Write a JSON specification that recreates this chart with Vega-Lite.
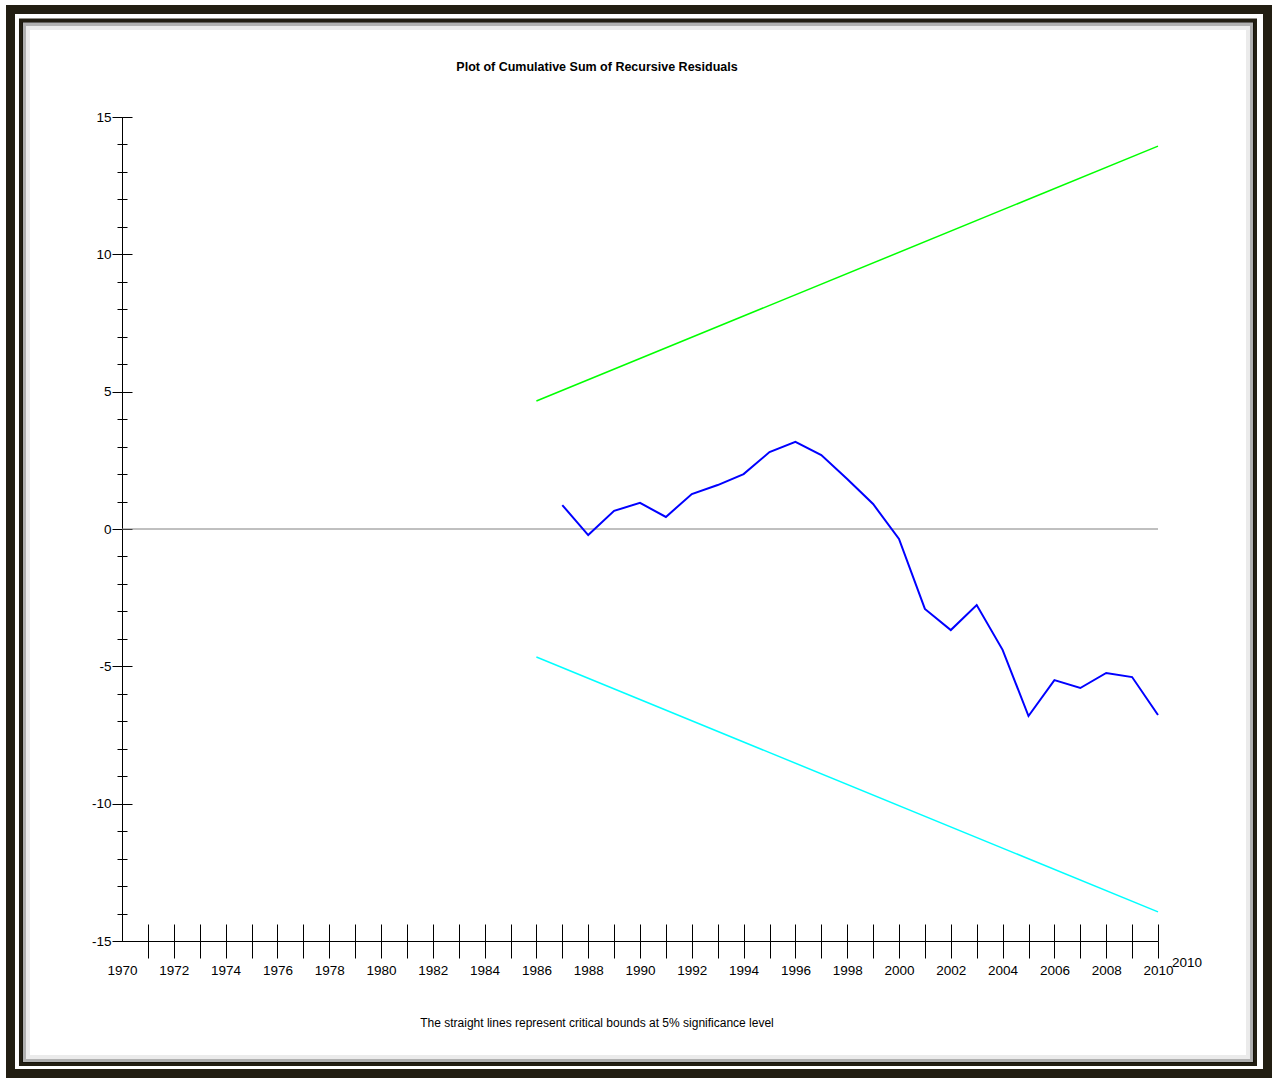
{
  "$schema": "https://vega.github.io/schema/vega-lite/v6.json",
  "width": 1036,
  "height": 824,
  "autosize": {"type": "none"},
  "padding": {"left": 122, "top": 117, "right": 115, "bottom": 142},
  "background": "white",
  "config": {"view": {"stroke": null}},
  "title": {
    "text": "Plot of Cumulative Sum of Recursive Residuals",
    "anchor": "middle",
    "frame": "group",
    "dx": -43,
    "offset": -69,
    "font": "Liberation Sans Narrow, Liberation Sans, sans-serif",
    "fontSize": 12.5,
    "fontWeight": "bold",
    "color": "#000"
  },
  "datasets": {
    "cusum": [
      {"year": 1987, "value": 0.87}, {"year": 1988, "value": -0.22}, {"year": 1989, "value": 0.66},
      {"year": 1990, "value": 0.95}, {"year": 1991, "value": 0.44}, {"year": 1992, "value": 1.27},
      {"year": 1993, "value": 1.60}, {"year": 1994, "value": 2.00}, {"year": 1995, "value": 2.80},
      {"year": 1996, "value": 3.17}, {"year": 1997, "value": 2.69}, {"year": 1998, "value": 1.82},
      {"year": 1999, "value": 0.91}, {"year": 2000, "value": -0.36}, {"year": 2001, "value": -2.91},
      {"year": 2002, "value": -3.68}, {"year": 2003, "value": -2.77}, {"year": 2004, "value": -4.40},
      {"year": 2005, "value": -6.81}, {"year": 2006, "value": -5.50}, {"year": 2007, "value": -5.79},
      {"year": 2008, "value": -5.24}, {"year": 2009, "value": -5.39}, {"year": 2010, "value": -6.77}
    ],
    "bounds": [
      {"year": 1986, "value": 4.66, "bound": "upper"},
      {"year": 2010, "value": 13.94, "bound": "upper"},
      {"year": 1986, "value": -4.66, "bound": "lower"},
      {"year": 2010, "value": -13.94, "bound": "lower"}
    ],
    "one": [{}]
  },
  "resolve": {"axis": {"x": "independent", "y": "independent"}},
  "layer": [
    {
      "data": {"name": "one"},
      "mark": {"type": "rect", "fill": "transparent", "stroke": "#221e12", "strokeWidth": 9},
      "encoding": {
        "x": {"datum": 1965.695, "type": "quantitative", "axis": null, "scale": {"domain": [1970, 2010], "nice": false, "zero": false}},
        "x2": {"datum": 2014.228},
        "y": {"datum": 18.914, "type": "quantitative", "axis": null, "scale": {"domain": [-15, 15], "nice": false, "zero": false}},
        "y2": {"datum": -19.824}
      }
    },
    {
      "data": {"name": "one"},
      "mark": {"type": "rect", "fill": "transparent", "stroke": "#221e12", "strokeWidth": 4},
      "encoding": {
        "x": {"datum": 1966.100, "type": "quantitative", "axis": null},
        "x2": {"datum": 2013.745},
        "y": {"datum": 18.513, "type": "quantitative", "axis": null},
        "y2": {"datum": -19.478}
      }
    },
    {
      "data": {"name": "one"},
      "mark": {"type": "rect", "fill": "transparent", "stroke": "#000", "strokeOpacity": 0.25, "strokeWidth": 4},
      "encoding": {
        "x": {"datum": 1966.216, "type": "quantitative", "axis": null},
        "x2": {"datum": 2013.629},
        "y": {"datum": 18.386, "type": "quantitative", "axis": null},
        "y2": {"datum": -19.369}
      }
    },
    {
      "data": {"name": "one"},
      "mark": {"type": "rect", "fill": "transparent", "stroke": "#000", "strokeOpacity": 0.08, "strokeWidth": 8},
      "encoding": {
        "x": {"datum": 1966.293, "type": "quantitative", "axis": null},
        "x2": {"datum": 2013.552},
        "y": {"datum": 18.313, "type": "quantitative", "axis": null},
        "y2": {"datum": -19.296}
      }
    },
    {
      "data": {"name": "one"},
      "mark": {"type": "rule", "color": "#808080", "strokeWidth": 1},
      "encoding": {
        "x": {"datum": 1970, "type": "quantitative", "axis": null},
        "x2": {"datum": 2010},
        "y": {"datum": 0, "type": "quantitative", "axis": {
          "orient": "left", "values": [-15, -10, -5, 0, 5, 10, 15], "tickSize": -10,
          "tickColor": "#000", "labels": false, "domain": false, "grid": false, "title": null
        }}
      }
    },
    {
      "data": {"name": "bounds"},
      "mark": {"type": "line", "strokeWidth": 1.5},
      "encoding": {
        "x": {"field": "year", "type": "quantitative", "axis": {
          "orient": "bottom",
          "values": [1971,1972,1973,1974,1975,1976,1977,1978,1979,1980,1981,1982,1983,1984,1985,1986,1987,1988,1989,1990,1991,1992,1993,1994,1995,1996,1997,1998,1999,2000,2001,2002,2003,2004,2005,2006,2007,2008,2009,2010],
          "tickSize": -17, "tickColor": "#000", "labels": false, "domain": false, "grid": false, "title": null
        }},
        "y": {"field": "value", "type": "quantitative", "axis": {
          "orient": "left",
          "values": [-15,-14,-13,-12,-11,-10,-9,-8,-7,-6,-5,-4,-3,-2,-1,0,1,2,3,4,5,6,7,8,9,10,11,12,13,14,15],
          "tickSize": 5, "tickColor": "#000", "labels": false, "domain": false, "grid": false, "title": null
        }},
        "color": {"field": "bound", "type": "nominal", "legend": null,
          "scale": {"domain": ["upper", "lower"], "range": ["#00ff00", "#00ffff"]}}
      }
    },
    {
      "data": {"name": "cusum"},
      "mark": {"type": "line", "color": "#0000ff", "strokeWidth": 2},
      "encoding": {
        "x": {"field": "year", "type": "quantitative", "scale": {"domain": [1970, 2010], "nice": false, "zero": false}, "axis": {
          "orient": "bottom",
          "values": [1970,1971,1972,1973,1974,1975,1976,1977,1978,1979,1980,1981,1982,1983,1984,1985,1986,1987,1988,1989,1990,1991,1992,1993,1994,1995,1996,1997,1998,1999,2000,2001,2002,2003,2004,2005,2006,2007,2008,2009,2010],
          "tickSize": 17, "tickColor": "#000",
          "tickOpacity": {"condition": {"test": "datum.value === 1970", "value": 0}, "value": 1},
          "labelExpr": "datum.value % 2 === 0 ? '' + datum.value : ''",
          "labelFont": "Liberation Sans Narrow, Liberation Sans, sans-serif",
          "labelFontSize": 13.5, "labelColor": "#000", "labelPadding": 5,
          "labelFlush": false, "labelOverlap": false, "labelBound": false,
          "domain": true, "domainColor": "#000", "domainWidth": 1, "grid": false,
          "title": "The straight lines represent critical bounds at 5% significance level",
          "titleX": 474.5, "titleY": 85, "titleAlign": "center", "titleBaseline": "alphabetic",
          "titleFont": "Liberation Sans Narrow, Liberation Sans, sans-serif",
          "titleFontSize": 12, "titleFontWeight": "normal", "titleColor": "#000"
        }},
        "y": {"field": "value", "type": "quantitative", "scale": {"domain": [-15, 15], "nice": false, "zero": false}, "axis": {
          "orient": "left",
          "values": [-15, -10, -5, 0, 5, 10, 15],
          "tickSize": 10, "tickColor": "#000",
          "labelExpr": "'' + datum.value",
          "labelFont": "Liberation Sans Narrow, Liberation Sans, sans-serif",
          "labelFontSize": 13.5, "labelColor": "#000", "labelPadding": 1,
          "labelFlush": false, "labelOverlap": false, "labelBound": false,
          "domain": true, "domainColor": "#000", "domainWidth": 1, "grid": false, "title": null
        }}
      }
    },
    {
      "data": {"name": "one"},
      "mark": {"type": "text", "align": "left", "baseline": "middle", "dx": 14, "dy": 21.5,
        "font": "Liberation Sans Narrow, Liberation Sans, sans-serif", "fontSize": 13.5, "color": "#000"},
      "encoding": {
        "x": {"datum": 2010, "type": "quantitative", "axis": null},
        "y": {"datum": -15, "type": "quantitative", "axis": {
          "orient": "left",
          "values": [-15,-14,-13,-12,-11,-10,-9,-8,-7,-6,-5,-4,-3,-2,-1,0,1,2,3,4,5,6,7,8,9,10,11,12,13,14,15],
          "tickSize": -5, "tickColor": "#000", "labels": false, "domain": false, "grid": false, "title": null
        }},
        "text": {"value": "2010"}
      }
    }
  ]
}
